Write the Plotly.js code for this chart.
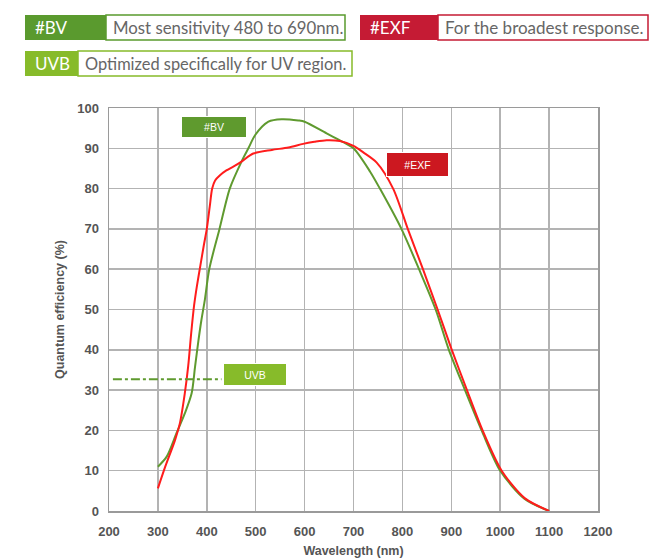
<!DOCTYPE html>
<html>
<head>
<meta charset="utf-8">
<script src="https://cdn.plot.ly/plotly-3.0.1.min.js"></script>
<style>html,body{margin:0;padding:0;background:#fff;}#chart{width:650px;height:560px;}</style>
</head>
<body>
<div id="chart"></div>
<script>
// ---- data ----
const exfWavelength = [300,315,335,345,355,362,368,374,380,387,394,400,406,411,417,427,440,455,471,495,533,567,597,620,645,672,700,720,747,781,811,842,872,901,932,964,1003,1050,1100];
const exfQE         = [5.6,11,17.6,21.8,29.2,36,44,51,56,61,66,70,75.5,80,82,83.3,84.5,85.5,86.7,88.7,89.6,90.2,91.1,91.6,92,91.8,90.6,89,86.5,80,70,60,50,40,30,20,10,3.2,0];
const bvWavelength  = [300,318,338,355,369,376,383,389,396,405,426,447,471,485,499,526,553,587,600,645,678,700,734,754,798,834,868,895,928,962,1000,1050,1100];
const bvQE          = [11,13.5,19.3,24.2,29.2,35.8,42.4,47.4,52.4,60,70,80,86.7,90,93.3,96.6,97.2,96.9,96.6,93.7,91.6,90,84.2,80,70,60,50,40,30,20,10,3,0];
const uvbWavelength = [208,430];
const uvbLevel      = [32.7,32.7];
const xTicks = [200,300,400,500,600,700,800,900,1000,1100,1200];
const yTicks = [0,10,20,30,40,50,60,70,80,90,100];
const chartLabels = ["#BV","#EXF","UVB"];
const headerTags = ["#BV","#EXF","UVB"];
const headerTexts = ["Most sensitivity 480 to 690nm.","For the broadest response.","Optimized specifically for UV region."];
const xTitle = "Wavelength (nm)";
const yTitle = "Quantum efficiency (%)";

// ---- styles ----
const RED = "#ff1c1c", GREEN = "#5f9a2f", LGREEN = "#87bb2a", CRIMSON = "#c51b34";
const L = 109, R = 598, T = 108, B = 511;
const px = x => (x - L) / (R - L);
const py = y => (B - y) / (B - T);

const traces = [
  {x: bvWavelength, y: bvQE, mode: "lines", line: {color: GREEN, width: 2, shape: "spline", smoothing: 0.8}, hoverinfo: "skip"},
  {x: exfWavelength, y: exfQE, mode: "lines", line: {color: RED, width: 2, shape: "spline", smoothing: 0.8}, hoverinfo: "skip"},
  {x: uvbWavelength, y: uvbLevel, mode: "lines", line: {color: GREEN, width: 2, dash: "dashdot"}, hoverinfo: "skip"}
];

// header boxes [tagX0, tagX1, descX1, y0, y1, tagColor]
const headerBoxes = [
  [25,106,345,15,40,"#5a9a2e"],
  [360,438,648,15,40,CRIMSON],
  [25,78,352,51,76,LGREEN]
];
const headerSizes = [16.8, 17, 16.4];
const shapes = [], annotations = [];
headerBoxes.forEach((b, i) => {
  shapes.push({type:"rect", xref:"paper", yref:"paper", x0:px(b[1]), x1:px(b[2]), y0:py(b[4]), y1:py(b[3]), fillcolor:"#fff", line:{color:b[5], width:1.5}, layer:"above"});
  shapes.push({type:"rect", xref:"paper", yref:"paper", x0:px(b[0]), x1:px(b[1]), y0:py(b[4]), y1:py(b[3]), fillcolor:b[5], line:{width:0}, layer:"above"});
  annotations.push({xref:"paper", yref:"paper", x:px(b[0] + 8), y:py((b[3]+b[4])/2), xanchor:"left", yanchor:"middle", showarrow:false, text:headerTags[i], font:{family:"Lato, Open Sans, sans-serif", size:17, color:"#fff"}});
  annotations.push({xref:"paper", yref:"paper", x:px(b[1] + 5), y:py((b[3]+b[4])/2), xanchor:"left", yanchor:"middle", showarrow:false, text:headerTexts[i], font:{family:"Lato, Open Sans, sans-serif", size:headerSizes[i], color:"#666"}});
});

// in-chart labels
const labelSpecs = [
  {x:415, y:95.3, w:64, h:20, c:"#5f9a2e"},
  {x:831, y:86, w:61, h:23, c:"#cc1820"},
  {x:499, y:33.9, w:62, h:21, c:LGREEN}
];
labelSpecs.forEach((s, i) => {
  annotations.push({x:s.x, y:s.y, xref:"x", yref:"y", showarrow:false, text:chartLabels[i],
    width:s.w, height:s.h, bgcolor:s.c, bordercolor:"#fff", borderwidth:1, borderpad:0,
    font:{family:"Liberation Sans, Arial, sans-serif", size:10.5, color:"#fff"}});
});

const axisCommon = {
  showgrid: true, gridcolor: "#b3b3b3", gridwidth: 1.5, zeroline: false,
  showline: true, linecolor: "#9a9a9a", linewidth: 1.5, mirror: true, ticks: "",
  tickfont: {family: "Liberation Sans, Arial, sans-serif", size: 13, color: "#555", weight: "bold"},
  fixedrange: true
};

const layout = {
  width: 650, height: 560,
  margin: {l: L, r: 650 - R, t: T, b: 560 - B, pad: 0},
  paper_bgcolor: "#fff", plot_bgcolor: "#fff",
  showlegend: false,
  xaxis: Object.assign({}, axisCommon, {range: [200, 1200], tickvals: xTicks, ticktext: xTicks.map(String),
    ticklabelstandoff: 8,
    title: {text: xTitle, standoff: 8, font: {family: "Liberation Sans, Arial, sans-serif", size: 12.5, color: "#555", weight: "bold"}}}),
  yaxis: Object.assign({}, axisCommon, {range: [0, 100], tickvals: yTicks, ticktext: yTicks.map(String),
    ticklabelstandoff: 6,
    title: {text: yTitle, standoff: 10, font: {family: "Liberation Sans, Arial, sans-serif", size: 12.5, color: "#555", weight: "bold"}}}),
  shapes: shapes,
  annotations: annotations
};

Plotly.newPlot("chart", traces, layout, {staticPlot: true, displayModeBar: false});
</script>
</body>
</html>
